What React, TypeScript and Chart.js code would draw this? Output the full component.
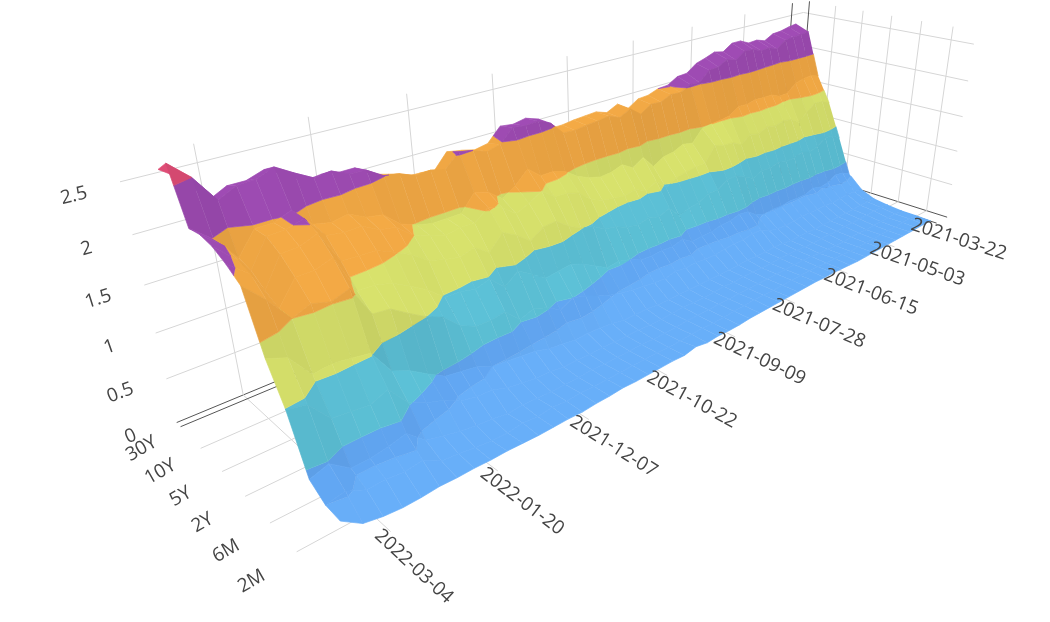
import React, { useEffect, useRef } from "react";
import { Chart, registerables } from "chart.js";

Chart.register(...registerables);

// Treasury yields, one reading every 5 trading days from 2021-03-22
const STEP = 5;
const y30Y = [2.39,2.37,2.34,2.33,2.26,2.30,2.29,2.35,2.35,2.26,2.29,2.24,2.20,2.10,2.09,2.01,2.00,1.95,1.94,1.85,1.95,1.88,1.93,1.92,1.91,1.89,1.89,2.05,2.10,2.07,2.09,1.93,1.90,1.94,1.97,1.79,1.82,1.83,1.91,1.96,2.08,2.08,2.11,2.09,2.21,2.31,2.25,2.25,2.16,2.42,2.56];
const y20Y = [2.31,2.30,2.29,2.28,2.18,2.23,2.22,2.27,2.28,2.19,2.23,2.16,2.15,2.02,2.03,1.96,1.97,1.91,1.92,1.83,1.94,1.87,1.93,1.91,1.90,1.88,1.89,2.05,2.12,2.11,2.13,1.98,1.94,2.00,2.03,1.88,1.92,1.91,1.98,2.01,2.12,2.13,2.21,2.19,2.29,2.40,2.33,2.32,2.23,2.50,2.68];
const y10Y = [1.69,1.73,1.72,1.69,1.58,1.57,1.63,1.63,1.64,1.61,1.62,1.53,1.51,1.50,1.48,1.32,1.35,1.29,1.27,1.19,1.36,1.27,1.36,1.31,1.30,1.34,1.41,1.52,1.57,1.57,1.70,1.55,1.45,1.58,1.63,1.44,1.44,1.44,1.48,1.55,1.71,1.74,1.83,1.80,1.84,2.04,1.97,1.97,1.74,1.99,2.15];
const y7Y = [1.33,1.39,1.40,1.30,1.20,1.28,1.30,1.27,1.30,1.24,1.28,1.17,1.25,1.26,1.30,1.10,1.10,1.08,1.05,0.96,1.10,1.03,1.10,1.07,1.09,1.12,1.18,1.32,1.37,1.38,1.50,1.41,1.34,1.47,1.53,1.40,1.41,1.38,1.44,1.50,1.65,1.68,1.78,1.77,1.80,2.03,1.98,1.97,1.70,2.00,2.17];
const y5Y = [.84,.91,.93,.84,.80,.85,.81,.80,.84,.80,.81,.75,.82,.89,.88,.79,.79,.72,.70,.65,.81,.75,.79,.76,.78,.85,.88,.97,1.01,1.09,1.21,1.20,1.09,1.22,1.31,1.14,1.26,1.21,1.25,1.30,1.43,1.52,1.60,1.61,1.62,1.96,1.89,1.88,1.59,1.95,2.14];
const y3Y = [.33,.39,.41,.34,.32,.36,.31,.31,.32,.30,.31,.29,.34,.44,.46,.42,.42,.38,.38,.37,.46,.42,.43,.42,.43,.50,.54,.52,.61,.70,.76,.74,.72,.84,.94,.82,.98,.93,.97,.98,1.13,1.24,1.34,1.39,1.40,1.80,1.74,1.74,1.50,1.90,2.06];
const y2Y = [.15,.16,.17,.16,.15,.16,.16,.16,.16,.15,.14,.15,.18,.25,.25,.23,.23,.22,.20,.20,.22,.21,.23,.20,.21,.23,.25,.28,.32,.38,.45,.50,.42,.52,.58,.52,.69,.66,.67,.75,.92,1.00,1.11,1.23,1.25,1.58,1.52,1.57,1.50,1.75,1.95];
const y1Y = [.07,.07,.07,.06,.06,.06,.05,.05,.05,.05,.05,.05,.07,.08,.07,.07,.08,.07,.07,.07,.07,.07,.07,.07,.07,.07,.09,.09,.09,.12,.14,.15,.14,.17,.19,.24,.26,.28,.30,.38,.41,.44,.55,.67,.75,1.02,1.05,1.08,1.05,1.30,1.37];
const y6M = [.04,.05,.05,.04,.04,.04,.04,.03,.04,.04,.03,.04,.05,.05,.06,.05,.05,.06,.06,.05,.06,.05,.05,.05,.06,.05,.05,.05,.06,.06,.06,.07,.06,.07,.07,.10,.10,.13,.16,.22,.23,.27,.37,.43,.52,.75,.68,.70,.72,.95,.99];
const y3M = [.02,.02,.02,.02,.02,.01,.02,.02,.01,.01,.02,.02,.04,.05,.05,.05,.05,.05,.05,.05,.05,.05,.05,.05,.05,.05,.04,.04,.04,.05,.05,.05,.05,.06,.05,.05,.05,.06,.07,.06,.09,.11,.14,.18,.23,.40,.36,.33,.33,.48,.42];
const y2M = [.02,.02,.02,.01,.01,.01,.01,.01,.01,.01,.02,.03,.03,.04,.05,.05,.05,.05,.05,.05,.06,.05,.05,.04,.04,.05,.05,.04,.04,.05,.05,.05,.05,.05,.05,.06,.05,.07,.05,.07,.05,.06,.08,.11,.13,.24,.22,.24,.24,.33,.30];
const y1M = [.01,.01,.01,.01,.01,.01,.01,.01,.01,.01,.01,.02,.03,.04,.04,.05,.05,.05,.05,.05,.05,.05,.05,.04,.04,.05,.04,.07,.04,.05,.05,.05,.05,.06,.05,.05,.04,.05,.05,.05,.06,.07,.07,.08,.08,.09,.08,.08,.10,.14,.28];
const rows = [y30Y, y20Y, y10Y, y7Y, y5Y, y3Y, y2Y, y1Y, y6M, y3M, y2M, y1M];

const dateTicks = ["2021-03-22","2021-05-03","2021-06-15","2021-07-28","2021-09-09","2021-10-22","2021-12-07","2022-01-20","2022-03-04"];
const dateTickStep = 30;
const maturityTicks = ["30Y","10Y","5Y","2Y","6M","2M"];
const maturityTickStep = 2;
const zTicks = [0, 0.5, 1, 1.5, 2, 2.5];

const bandEdges = [-1, 0.3, 0.5, 1, 1.5, 2, 2.5, 9];
const bandColors = [[104,175,249],[98,167,243],[93,194,216],[216,226,108],[244,170,69],[160,76,181],[227,78,120]];

// Box limits in data units
const D_MIN = -8, D_MAX = 258, Y_MIN = -0.4, Y_MAX = 11.4, Z_TOP = 2.68;

// Camera calibration: box reference points [date, maturity row, yield] -> picture
const cameraAnchors: number[][] = [
  [258,-0.4,0, 177,418],[258,-0.4,2.5, 123,179],[-8,-0.4,0, 791,170],[-8,-0.4,2.5, 807,14],
  [-8,11.4,0, 945,217],[-8,11.4,2.5, 973,45],[258,10,0, 297,554],[258,0,0, 182,428],
  [240,10,0, 370,513],[240,0,0, 246,403],[258,6,0, 246,498],[-8,10,0, 927,210],[-8,10,2.5, 953,41],
  [30,-0.4,2.5, 743,25],[60,-0.4,2.5, 691,41],[90,-0.4,2.5, 632,56],[120,-0.4,2.5, 566,72],
  [150,-0.4,2.5, 492,90],[180,-0.4,2.5, 407,110],[210,-0.4,2.5, 310,133],[240,-0.4,2.5, 197,160],
  [-8,6,0, 872,190],[-8,8,0, 898,200],
];

function solveCamera(): number[] {
  const n = 11;
  const A = Array.from({ length: n }, () => new Array(n + 1).fill(0));
  const add = (row: number[], rhs: number) => {
    for (let i = 0; i < n; i++) {
      for (let j = 0; j < n; j++) A[i][j] += row[i] * row[j];
      A[i][n] += row[i] * rhs;
    }
  };
  for (const [d, y, z, px, py] of cameraAnchors) {
    const X = d / 258, Y = y / 11, Z = z / 2.5, u = px / 1000, v = py / 1000;
    add([X, Y, Z, 1, 0, 0, 0, 0, -u * X, -u * Y, -u * Z], u);
    add([0, 0, 0, 0, X, Y, Z, 1, -v * X, -v * Y, -v * Z], v);
  }
  for (let c = 0; c < n; c++) {
    let p = c;
    for (let r = c + 1; r < n; r++) if (Math.abs(A[r][c]) > Math.abs(A[p][c])) p = r;
    [A[c], A[p]] = [A[p], A[c]];
    for (let r = 0; r < n; r++) {
      if (r === c) continue;
      const f = A[r][c] / A[c][c];
      for (let k = c; k <= n; k++) A[r][k] -= f * A[c][k];
    }
  }
  return A.map((r, i) => r[n] / r[i]);
}
const cam = solveCamera();
function project(d: number, y: number, z: number) {
  const X = d / 258, Y = y / 11, Z = z / 2.5;
  const w = cam[8] * X + cam[9] * Y + cam[10] * Z + 1;
  return {
    x: (1000 * (cam[0] * X + cam[1] * Y + cam[2] * Z + cam[3])) / w,
    y: (1000 * (cam[4] * X + cam[5] * Y + cam[6] * Z + cam[7])) / w,
  };
}

type V = { d: number; y: number; z: number };
function clipAbove(poly: V[], level: number, sign: number): V[] {
  const out: V[] = [];
  for (let i = 0; i < poly.length; i++) {
    const a = poly[i], b = poly[(i + 1) % poly.length];
    const ia = sign * (a.z - level) >= 0, ib = sign * (b.z - level) >= 0;
    if (ia) out.push(a);
    if (ia !== ib) {
      const t = (level - a.z) / (b.z - a.z);
      out.push({ d: a.d + t * (b.d - a.d), y: a.y + t * (b.y - a.y), z: level });
    }
  }
  return out;
}

function lineSet(a: number[], b: number[], color: string, width: number) {
  return {
    data: [project(a[0], a[1], a[2]), project(b[0], b[1], b[2])],
    borderColor: color, borderWidth: width, pointRadius: 0, fill: false, tension: 0,
  };
}

function buildDatasets() {
  const sets: any[] = [];
  const grid = "#d6d6d6", dark = "#555555";
  zTicks.forEach((z) => sets.push(lineSet([D_MAX, Y_MIN, z], [D_MIN, Y_MIN, z], z === 0 ? dark : grid, 1)));
  zTicks.forEach((z) => sets.push(lineSet([D_MIN, Y_MIN, z], [D_MIN, Y_MAX, z], z === 0 ? dark : grid, 1)));
  dateTicks.forEach((_, i) => {
    const d = i * dateTickStep;
    sets.push(lineSet([d, Y_MIN, 0], [d, Y_MIN, Z_TOP], i === 0 ? dark : grid, 1));
    sets.push(lineSet([d, Y_MIN, 0], [d, Y_MAX, 0], i === 0 ? dark : grid, 1));
  });
  maturityTicks.forEach((_, i) => {
    const y = i * maturityTickStep;
    sets.push(lineSet([D_MIN, y, 0], [D_MIN, y, Z_TOP], i === 0 ? dark : grid, 1));
    sets.push(lineSet([D_MAX, y, 0], [D_MIN, y, 0], i === 0 ? dark : grid, 1));
  });
  // surface, back row first
  for (let r = 0; r < rows.length - 1; r++) {
    for (let c = 0; c < rows[r].length - 1; c++) {
      const q: V[] = [
        { d: c * STEP, y: r, z: rows[r][c] },
        { d: (c + 1) * STEP, y: r, z: rows[r][c + 1] },
        { d: (c + 1) * STEP, y: r + 1, z: rows[r + 1][c + 1] },
        { d: c * STEP, y: r + 1, z: rows[r + 1][c] },
      ];
      const slopeY = Math.abs((q[0].z + q[1].z - q[2].z - q[3].z) / 2);
      const slopeD = Math.abs((q[0].z + q[3].z - q[1].z - q[2].z) / 2);
      const shade = 1 - Math.min(0.08, Math.max(0, slopeY - 0.25) * 0.18 + Math.max(0, slopeD - 0.03) * 0.12);
      for (let b = 0; b < bandColors.length; b++) {
        let p = clipAbove(q, bandEdges[b], 1);
        if (p.length) p = clipAbove(p, bandEdges[b + 1], -1);
        if (p.length < 3) continue;
        const col = `rgb(${bandColors[b].map((v) => Math.round(v * shade)).join(",")})`;
        sets.push({
          data: p.map((v) => project(v.d, v.y, v.z)),
          backgroundColor: col, borderColor: col, borderWidth: 0.7,
          fill: "shape", pointRadius: 0, tension: 0,
        });
      }
    }
  }
  return sets.reverse();
}

const labelPlugin = {
  id: "axisLabels",
  afterDatasetsDraw(chart: any) {
    const { ctx, scales } = chart;
    const px = (p: { x: number; y: number }) => ({
      x: scales.x.getPixelForValue(p.x),
      y: scales.y.getPixelForValue(p.y),
    });
    const put = (text: string, x: number, y: number, angle: number) => {
      ctx.save();
      ctx.translate(x, y);
      ctx.rotate(angle);
      ctx.font = '19px "Open Sans"';
      ctx.fillStyle = "#444444";
      ctx.textAlign = "center";
      ctx.textBaseline = "middle";
      ctx.fillText(text, 0, 0);
      ctx.restore();
    };
    dateTicks.forEach((t, i) => {
      const d = i * dateTickStep;
      const a = px(project(d, 10, 0)), b = px(project(d, 13.3, 0));
      put(t, b.x - 7, b.y + 7, Math.atan2(b.y - a.y, b.x - a.x));
    });
    maturityTicks.forEach((t, i) => {
      const y = i * maturityTickStep;
      const a = px(project(D_MAX, y, 0));
      put(t, a.x - 39 - i * 1.2, a.y + 22 + i * 1.5, -0.52);
    });
    zTicks.forEach((z) => {
      const a = px(project(D_MAX, Y_MIN, z)), b = px(project(D_MIN, Y_MIN, z));
      put(String(z), a.x - 46, a.y + 14, Math.atan2(b.y - a.y, b.x - a.x));
    });
  },
};

export default function App() {
  const ref = useRef<HTMLCanvasElement>(null);
  useEffect(() => {
    const chart = new Chart(ref.current!, {
      type: "line",
      data: { datasets: buildDatasets() },
      options: {
        animation: false,
        responsive: false,
        events: [],
        layout: { padding: 0 },
        plugins: { legend: { display: false }, tooltip: { enabled: false } },
        scales: {
          x: { type: "linear", min: 0, max: 1050, display: false },
          y: { type: "linear", min: 0, max: 622, reverse: true, display: false },
        },
      },
      plugins: [labelPlugin],
    } as any);
    return () => chart.destroy();
  }, []);
  return (
    <canvas
      ref={ref}
      width={1050}
      height={622}
      style={{ position: "fixed", left: 0, top: 0, width: 1050, height: 622 }}
    />
  );
}
